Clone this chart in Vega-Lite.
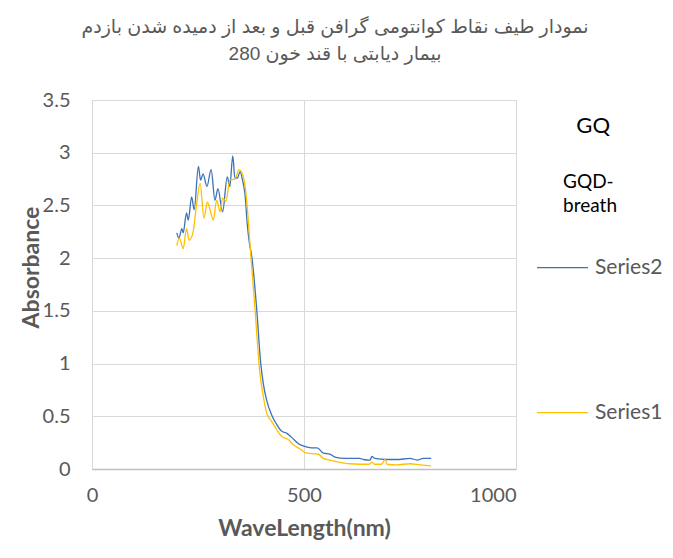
{
  "$schema": "https://vega.github.io/schema/vega-lite/v6.json",
  "width": 424,
  "height": 369,
  "autosize": {"type": "none"},
  "padding": {"left": 92, "top": 100, "right": 157, "bottom": 89},
  "background": "white",
  "config": {
    "font": "Lato",
    "view": {"stroke": "#d9d9d9", "strokeWidth": 1}
  },
  "title": {
    "text": ["نمودار طیف نقاط کوانتومی گرافن قبل و بعد از دمیده شدن بازدم", "بیمار دیابتی با قند خون 280"],
    "font": "Liberation Sans, DejaVu Sans",
    "fontSize": 19,
    "fontWeight": "normal",
    "color": "#595959",
    "lineHeight": 27,
    "anchor": "middle",
    "frame": "group",
    "dx": 31,
    "offset": 26
  },
  "layer": [
    {
      "data": {
        "values": [
          {"wl": 200, "a": 2.24, "s": "Series2"},
          {"wl": 205, "a": 2.19, "s": "Series2"},
          {"wl": 212, "a": 2.28, "s": "Series2"},
          {"wl": 215, "a": 2.24, "s": "Series2"},
          {"wl": 223, "a": 2.43, "s": "Series2"},
          {"wl": 227, "a": 2.36, "s": "Series2"},
          {"wl": 235, "a": 2.58, "s": "Series2"},
          {"wl": 241, "a": 2.46, "s": "Series2"},
          {"wl": 251, "a": 2.87, "s": "Series2"},
          {"wl": 256, "a": 2.74, "s": "Series2"},
          {"wl": 262, "a": 2.8, "s": "Series2"},
          {"wl": 271, "a": 2.68, "s": "Series2"},
          {"wl": 281, "a": 2.84, "s": "Series2"},
          {"wl": 290, "a": 2.55, "s": "Series2"},
          {"wl": 297, "a": 2.66, "s": "Series2"},
          {"wl": 308, "a": 2.44, "s": "Series2"},
          {"wl": 319, "a": 2.77, "s": "Series2"},
          {"wl": 325, "a": 2.68, "s": "Series2"},
          {"wl": 332, "a": 2.97, "s": "Series2"},
          {"wl": 337, "a": 2.76, "s": "Series2"},
          {"wl": 343, "a": 2.76, "s": "Series2"},
          {"wl": 349, "a": 2.82, "s": "Series2"},
          {"wl": 355, "a": 2.74, "s": "Series2"},
          {"wl": 361, "a": 2.6, "s": "Series2"},
          {"wl": 366, "a": 2.33, "s": "Series2"},
          {"wl": 371, "a": 2.15, "s": "Series2"},
          {"wl": 377, "a": 2.01, "s": "Series2"},
          {"wl": 388, "a": 1.54, "s": "Series2"},
          {"wl": 398, "a": 1.0, "s": "Series2"},
          {"wl": 404, "a": 0.81, "s": "Series2"},
          {"wl": 412, "a": 0.65, "s": "Series2"},
          {"wl": 424, "a": 0.51, "s": "Series2"},
          {"wl": 436, "a": 0.42, "s": "Series2"},
          {"wl": 447, "a": 0.36, "s": "Series2"},
          {"wl": 459, "a": 0.34, "s": "Series2"},
          {"wl": 471, "a": 0.3, "s": "Series2"},
          {"wl": 487, "a": 0.24, "s": "Series2"},
          {"wl": 498, "a": 0.22, "s": "Series2"},
          {"wl": 518, "a": 0.2, "s": "Series2"},
          {"wl": 531, "a": 0.2, "s": "Series2"},
          {"wl": 546, "a": 0.15, "s": "Series2"},
          {"wl": 561, "a": 0.14, "s": "Series2"},
          {"wl": 575, "a": 0.11, "s": "Series2"},
          {"wl": 597, "a": 0.1, "s": "Series2"},
          {"wl": 632, "a": 0.1, "s": "Series2"},
          {"wl": 640, "a": 0.09, "s": "Series2"},
          {"wl": 656, "a": 0.085, "s": "Series2"},
          {"wl": 660, "a": 0.12, "s": "Series2"},
          {"wl": 667, "a": 0.1, "s": "Series2"},
          {"wl": 695, "a": 0.09, "s": "Series2"},
          {"wl": 719, "a": 0.09, "s": "Series2"},
          {"wl": 750, "a": 0.1, "s": "Series2"},
          {"wl": 767, "a": 0.085, "s": "Series2"},
          {"wl": 781, "a": 0.1, "s": "Series2"},
          {"wl": 800, "a": 0.1, "s": "Series2"},
          {"wl": 200, "a": 2.12, "s": "Series1"},
          {"wl": 206, "a": 2.19, "s": "Series1"},
          {"wl": 215, "a": 2.09, "s": "Series1"},
          {"wl": 223, "a": 2.28, "s": "Series1"},
          {"wl": 229, "a": 2.17, "s": "Series1"},
          {"wl": 238, "a": 2.24, "s": "Series1"},
          {"wl": 247, "a": 2.52, "s": "Series1"},
          {"wl": 255, "a": 2.71, "s": "Series1"},
          {"wl": 264, "a": 2.38, "s": "Series1"},
          {"wl": 272, "a": 2.53, "s": "Series1"},
          {"wl": 279, "a": 2.45, "s": "Series1"},
          {"wl": 286, "a": 2.36, "s": "Series1"},
          {"wl": 294, "a": 2.55, "s": "Series1"},
          {"wl": 302, "a": 2.44, "s": "Series1"},
          {"wl": 308, "a": 2.57, "s": "Series1"},
          {"wl": 316, "a": 2.54, "s": "Series1"},
          {"wl": 325, "a": 2.74, "s": "Series1"},
          {"wl": 337, "a": 2.75, "s": "Series1"},
          {"wl": 347, "a": 2.84, "s": "Series1"},
          {"wl": 357, "a": 2.77, "s": "Series1"},
          {"wl": 365, "a": 2.54, "s": "Series1"},
          {"wl": 373, "a": 2.11, "s": "Series1"},
          {"wl": 384, "a": 1.54, "s": "Series1"},
          {"wl": 396, "a": 0.91, "s": "Series1"},
          {"wl": 404, "a": 0.69, "s": "Series1"},
          {"wl": 412, "a": 0.53, "s": "Series1"},
          {"wl": 424, "a": 0.45, "s": "Series1"},
          {"wl": 436, "a": 0.37, "s": "Series1"},
          {"wl": 447, "a": 0.31, "s": "Series1"},
          {"wl": 463, "a": 0.28, "s": "Series1"},
          {"wl": 475, "a": 0.23, "s": "Series1"},
          {"wl": 491, "a": 0.19, "s": "Series1"},
          {"wl": 506, "a": 0.15, "s": "Series1"},
          {"wl": 534, "a": 0.14, "s": "Series1"},
          {"wl": 546, "a": 0.1, "s": "Series1"},
          {"wl": 561, "a": 0.085, "s": "Series1"},
          {"wl": 577, "a": 0.07, "s": "Series1"},
          {"wl": 608, "a": 0.05, "s": "Series1"},
          {"wl": 653, "a": 0.045, "s": "Series1"},
          {"wl": 660, "a": 0.065, "s": "Series1"},
          {"wl": 666, "a": 0.045, "s": "Series1"},
          {"wl": 683, "a": 0.045, "s": "Series1"},
          {"wl": 691, "a": 0.09, "s": "Series1"},
          {"wl": 696, "a": 0.045, "s": "Series1"},
          {"wl": 719, "a": 0.04, "s": "Series1"},
          {"wl": 750, "a": 0.05, "s": "Series1"},
          {"wl": 774, "a": 0.04, "s": "Series1"},
          {"wl": 800, "a": 0.03, "s": "Series1"}
        ]
      },
      "mark": {"type": "line", "strokeWidth": 1.3, "interpolate": "monotone"},
      "encoding": {
        "x": {
          "field": "wl",
          "type": "quantitative",
          "scale": {"domain": [0, 1000], "nice": false},
          "axis": {
            "values": [0, 500, 1000],
            "format": "d",
            "labelFlush": false,
            "labelAlign": {"expr": "datum.value >= 1000 ? 'right' : 'center'"},
            "domainColor": "#bfbfbf",
            "domainWidth": 1.5,
            "ticks": false,
            "grid": true,
            "gridColor": "#d9d9d9",
            "labelFontSize": 20,
            "labelColor": "#595959",
            "labelPadding": 16,
            "title": "WaveLength(nm)",
            "titleFontSize": 23,
            "titleFontWeight": "bold",
            "titleColor": "#595959",
            "titlePadding": 12
          }
        },
        "y": {
          "field": "a",
          "type": "quantitative",
          "scale": {"domain": [0, 3.5], "nice": false},
          "axis": {
            "values": [0, 0.5, 1, 1.5, 2, 2.5, 3, 3.5],
            "format": "~g",
            "domain": false,
            "ticks": false,
            "grid": true,
            "gridColor": "#d9d9d9",
            "labelFontSize": 20,
            "labelColor": "#595959",
            "labelPadding": 22,
            "title": "Absorbance",
            "titleFontSize": 23,
            "titleFontWeight": "bold",
            "titleColor": "#595959",
            "titleAngle": -90,
            "titleAlign": "center",
            "titleBaseline": "middle",
            "titleX": -61,
            "titleY": 167
          }
        },
        "color": {
          "field": "s",
          "type": "nominal",
          "scale": {"domain": ["Series2", "Series1"], "range": ["#3b73b9", "#ffc000"]},
          "legend": {
            "title": null,
            "orient": "none",
            "legendX": 444,
            "legendY": 141,
            "padding": 0,
            "symbolType": "stroke",
            "symbolSize": 2601,
            "symbolStrokeWidth": 1.25,
            "labelFontSize": 21,
            "labelColor": "#595959",
            "labelOffset": 6,
            "rowPadding": 108
          }
        }
      }
    },
    {
      "data": {"values": [{}]},
      "mark": {"type": "text", "text": "GQ", "fontSize": 22, "color": "black", "align": "center", "baseline": "middle"},
      "encoding": {"x": {"datum": 1182}, "y": {"datum": 3.25}}
    },
    {
      "data": {"values": [{}]},
      "mark": {"type": "text", "text": ["GQD-", "breath"], "fontSize": 19, "lineHeight": 24, "color": "black", "align": "left", "baseline": "middle"},
      "encoding": {"x": {"datum": 1111}, "y": {"datum": 2.72}}
    }
  ]
}
